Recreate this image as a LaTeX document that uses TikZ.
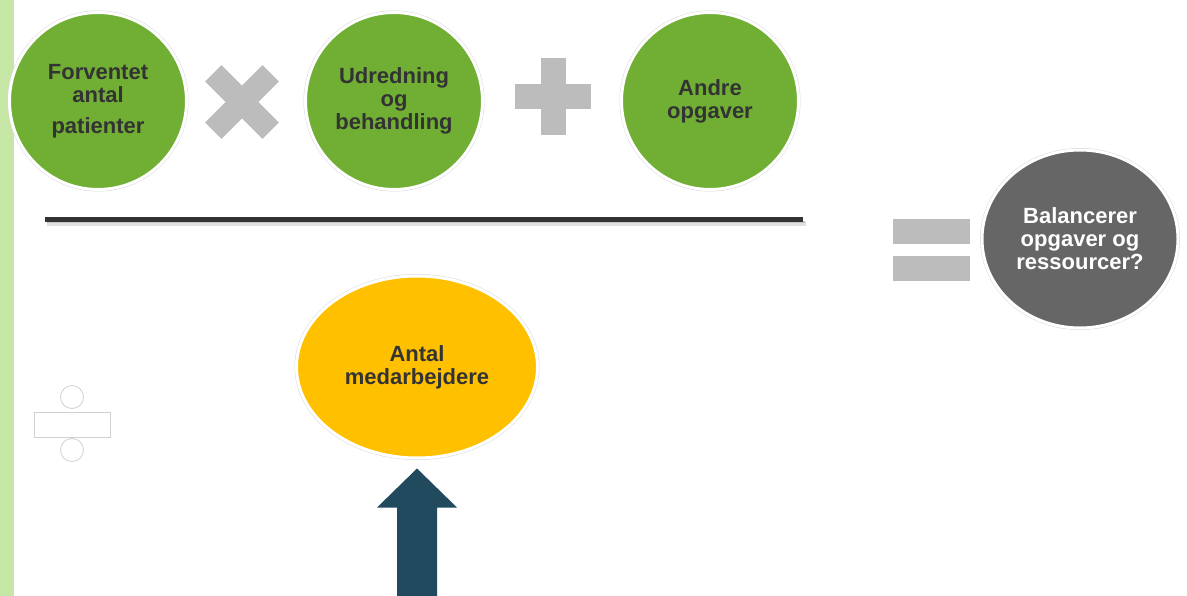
\documentclass[tikz,border=0pt]{standalone}
\usepackage{fontspec}
\setmainfont{Liberation Sans}
\usetikzlibrary{shapes.geometric}

\definecolor{leafgreen}{RGB}{112,175,51}
\definecolor{sunyellow}{RGB}{255,192,0}
\definecolor{slategray}{RGB}{102,102,102}
\definecolor{opgray}{RGB}{188,188,188}
\definecolor{navyteal}{RGB}{33,74,94}
\definecolor{textgray}{RGB}{51,51,51}
\definecolor{stripgreen}{RGB}{197,230,165}

\tikzset{
    bubble/.style={ellipse, inner sep=0pt, align=center, text=textgray,
        font=\fontsize{22}{23}\selectfont\bfseries,
        preaction={draw=black!15, line width=4pt}, draw=white, line width=3pt},
    greenbubble/.style={bubble, fill=leafgreen, minimum width=177pt, minimum height=177pt},
    divline/.style={draw=black!18, fill=white, line width=0.8pt}
}

\begin{document}
\begin{tikzpicture}[x=1pt, y=-1pt]
    \useasboundingbox (0,0) rectangle (1187,596);

    % Green strip on the left
    \fill[stripgreen] (0,0) rectangle (14,596);

    % Tasks
    \node[greenbubble] (patients) at (98,101) {Forventet\\antal\\[8pt]patienter};
    \node[greenbubble] (udredning) at (394,101) {Udredning\\og\\behandling};
    \node[greenbubble] (andre) at (710,101) {Andre\\opgaver};

    % Times sign
    \draw[opgray, line width=23pt] (213.3,73.3) -- (270.7,130.7);
    \draw[opgray, line width=23pt] (213.3,130.7) -- (270.7,73.3);

    % Plus sign
    \fill[opgray] (541,58) rectangle (566,135);
    \fill[opgray] (515,84) rectangle (591,109);

    % Fraction line with its shadow
    \draw[black!12, line width=5pt] (47,223.5) -- (806,223.5);
    \draw[black!22, line width=2pt] (47,222.5) -- (805,222.5);
    \draw[black!80, line width=5pt] (45,219.5) -- (803,219.5);

    % Equal sign
    \fill[opgray] (893,219) rectangle (970,244);
    \fill[opgray] (893,256) rectangle (970,281);

    % Result
    \node[bubble, fill=slategray, text=white, minimum width=196pt, minimum height=178pt]
        (balance) at (1080,239) {Balancerer\\opgaver og\\ressourcer?};

    % Divide sign
    \draw[divline] (72,397) circle (11.5pt);
    \draw[divline] (34,412) rectangle (110,437);
    \draw[divline] (72,450) circle (11.5pt);

    % Staff
    \node[bubble, fill=sunyellow, minimum width=241pt, minimum height=182pt]
        (staff) at (417,367) {Antal\\medarbejdere};

    % Arrow up to staff
    \path (staff.south) ++(0,9) coordinate (tip);
    \fill[navyteal] (tip) -- ++(40,39) -- ++(-20,0) -- ++(0,92) -- ++(-40,0)
        -- ++(0,-92) -- ++(-20,0) -- cycle;
\end{tikzpicture}
\end{document}
